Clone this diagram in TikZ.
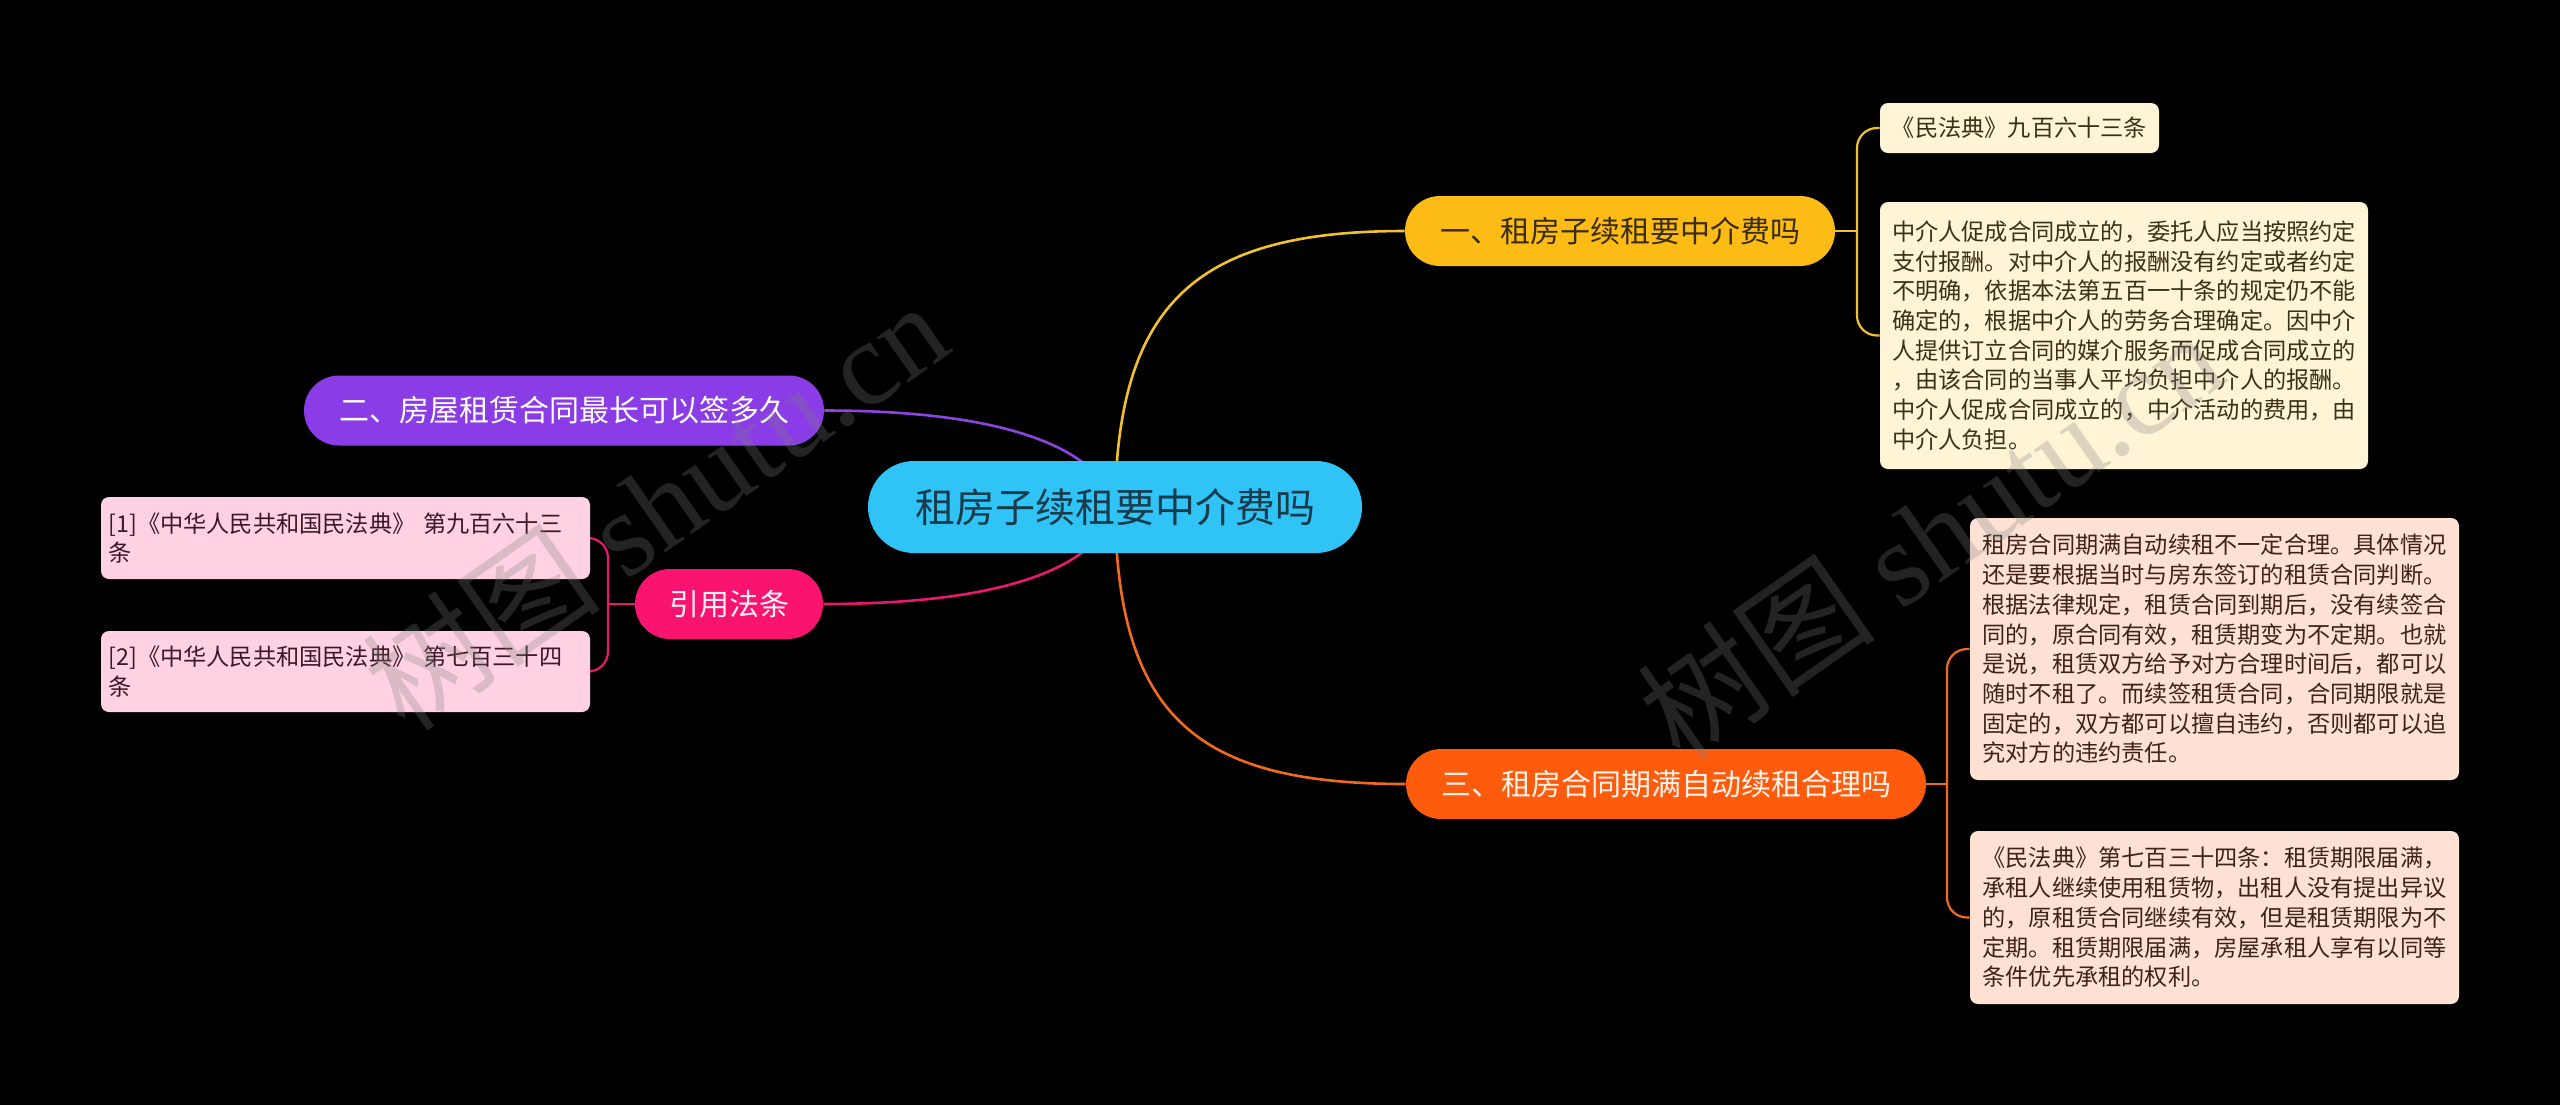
\documentclass[tikz,border=0pt]{standalone}
\usepackage{fontspec}
\setmainfont{Noto Sans CJK SC}
\newfontfamily\wmlatin{Liberation Serif}
\usetikzlibrary{calc}
\pgfdeclarelayer{bgfill}
\pgfdeclarelayer{bglines}
\pgfsetlayers{bgfill,bglines,main}
\definecolor{rootc}{HTML}{2FC4F5}
\definecolor{roottxt}{HTML}{163B4C}
\definecolor{yelc}{HTML}{FCBC15}
\definecolor{yeltxt}{HTML}{3A2C0A}
\definecolor{yelline}{HTML}{F4C12E}
\definecolor{orac}{HTML}{FF5B0C}
\definecolor{oratxt}{HTML}{FFF3EA}
\definecolor{oraline}{HTML}{F26A1E}
\definecolor{purc}{HTML}{8A3CE6}
\definecolor{purline}{HTML}{8B45E0}
\definecolor{pinkc}{HTML}{FA1470}
\definecolor{pinktxt}{HTML}{FFF0F5}
\definecolor{pinkline}{HTML}{E8186F}
\definecolor{yleaf}{HTML}{FFF4D6}
\definecolor{yleaftxt}{HTML}{3C3018}
\definecolor{oleaf}{HTML}{FDE2D4}
\definecolor{oleaftxt}{HTML}{3E2418}
\definecolor{pleaf}{HTML}{FFD1E3}
\definecolor{pleaftxt}{HTML}{3A1A28}
\begin{document}
\begin{tikzpicture}[x=0.5pt,y=-0.5pt,
  rootnode/.style={fill=rootc,text=roottxt,rounded corners=23pt,minimum width=247pt,minimum height=46pt,inner sep=0pt,font=\fontsize{20pt}{24pt}\selectfont},
  branchnode/.style={rounded corners=17.5pt,minimum height=35pt,inner sep=0pt,font=\fontsize{15pt}{18pt}\selectfont},
  leafnode/.style={rounded corners=4pt,align=left,inner sep=0pt,font=\fontsize{11.6pt}{14.85pt}\selectfont},
  conn/.style={line width=1.3pt},
  brk/.style={line width=1.1pt,rounded corners=10pt},
  watermark/.style={rotate=35,text=gray,opacity=0.28,inner sep=0pt,font=\fontsize{60pt}{60pt}\selectfont}
]
\begin{pgfonlayer}{bgfill}
\fill[black] (0,0) rectangle (2560,1105);
\end{pgfonlayer}
\useasboundingbox (0,0) rectangle (2560,1105);

% root
\node[rootnode] (root) at (1115,507) {租房子续租要中介费吗};

% branches
\node[branchnode,fill=yelc,text=yeltxt,minimum width=215pt] (b1) at (1620,231) {一、租房子续租要中介费吗};
\node[branchnode,fill=purc,text=white,minimum width=260pt] (b2) at (564,410.5) {二、房屋租赁合同最长可以签多久};
\node[branchnode,fill=orac,text=oratxt,minimum width=260pt] (b3) at (1666,784) {三、租房合同期满自动续租合理吗};
\node[branchnode,fill=pinkc,text=pinktxt,minimum width=94pt] (b4) at (729,604) {引用法条};

% leaves of branch 1
\node[leafnode,fill=yleaf,text=yleaftxt,minimum width=139.5pt,minimum height=25pt] (y1) at (2019.5,128) {《民法典》九百六十三条};
\node[leafnode,fill=yleaf,text=yleaftxt,minimum width=244pt,minimum height=133.5pt] (y2) at (2124,335.5) {中介人促成合同成立的，委托人应当按照约定\\支付报酬。对中介人的报酬没有约定或者约定\\不明确，依据本法第五百一十条的规定仍不能\\确定的，根据中介人的劳务合理确定。因中介\\人提供订立合同的媒介服务而促成合同成立的\\，由该合同的当事人平均负担中介人的报酬。\\中介人促成合同成立的，中介活动的费用，由\\中介人负担。};

% leaves of branch 3
\node[leafnode,fill=oleaf,text=oleaftxt,minimum width=244.5pt,minimum height=131pt] (o1) at (2214.5,649) {租房合同期满自动续租不一定合理。具体情况\\还是要根据当时与房东签订的租赁合同判断。\\根据法律规定，租赁合同到期后，没有续签合\\同的，原合同有效，租赁期变为不定期。也就\\是说，租赁双方给予对方合理时间后，都可以\\随时不租了。而续签租赁合同，合同期限就是\\固定的，双方都可以擅自违约，否则都可以追\\究对方的违约责任。};
\node[leafnode,fill=oleaf,text=oleaftxt,minimum width=244.5pt,minimum height=86.5pt] (o2) at (2214.5,917.5) {《民法典》第七百三十四条：租赁期限届满，\\承租人继续使用租赁物，出租人没有提出异议\\的，原租赁合同继续有效，但是租赁期限为不\\定期。租赁期限届满，房屋承租人享有以同等\\条件优先承租的权利。};

% leaves of 引用法条
\node[leafnode,fill=pleaf,text=pleaftxt,text width=237pt,inner xsep=3.75pt,minimum height=41pt] (p1) at (345.5,538) {[1]《中华人民共和国民法典》 第九百六十三\\条};
\node[leafnode,fill=pleaf,text=pleaftxt,text width=237pt,inner xsep=3.75pt,minimum height=40.5pt] (p2) at (345.5,671.5) {[2]《中华人民共和国民法典》 第七百三十四\\条};

% junctions
\coordinate (j1) at (1857,231);
\coordinate (j3) at (1947,784);
\coordinate (j4) at (608,604);

\begin{pgfonlayer}{bglines}
\draw[conn,yelline] (root.center) .. controls +(2,-207) and +(-205,0) .. (b1.west);
\draw[conn,oraline] (root.center) .. controls +(2,213) and +(-206,0) .. (b3.west);
\draw[conn,purline] (root.center) .. controls +(-15,-57) and +(186,0) .. (b2.east);
\draw[conn,pinkline] (root.center) .. controls +(-15,58) and +(187,0) .. (b4.east);
% brackets
\draw[brk,yelline] (b1.east) -- (j1);
\draw[brk,yelline] (y1.west) -| (j1) |- (y2.west);
\draw[brk,oraline] (b3.east) -- (j3);
\draw[brk,oraline] (o1.west) -| (j3) |- (o2.west);
\draw[brk,pinkline] (b4.west) -- (j4);
\draw[brk,pinkline] (p1.east) -| (j4) |- (p2.east);
\end{pgfonlayer}

% watermarks
\node[watermark] (wm1) at (655,505) {树图 {\wmlatin shutu.cn}};
\node[watermark] (wm2) at (1930,535) {树图 {\wmlatin shutu.cn}};
\end{tikzpicture}
\end{document}
